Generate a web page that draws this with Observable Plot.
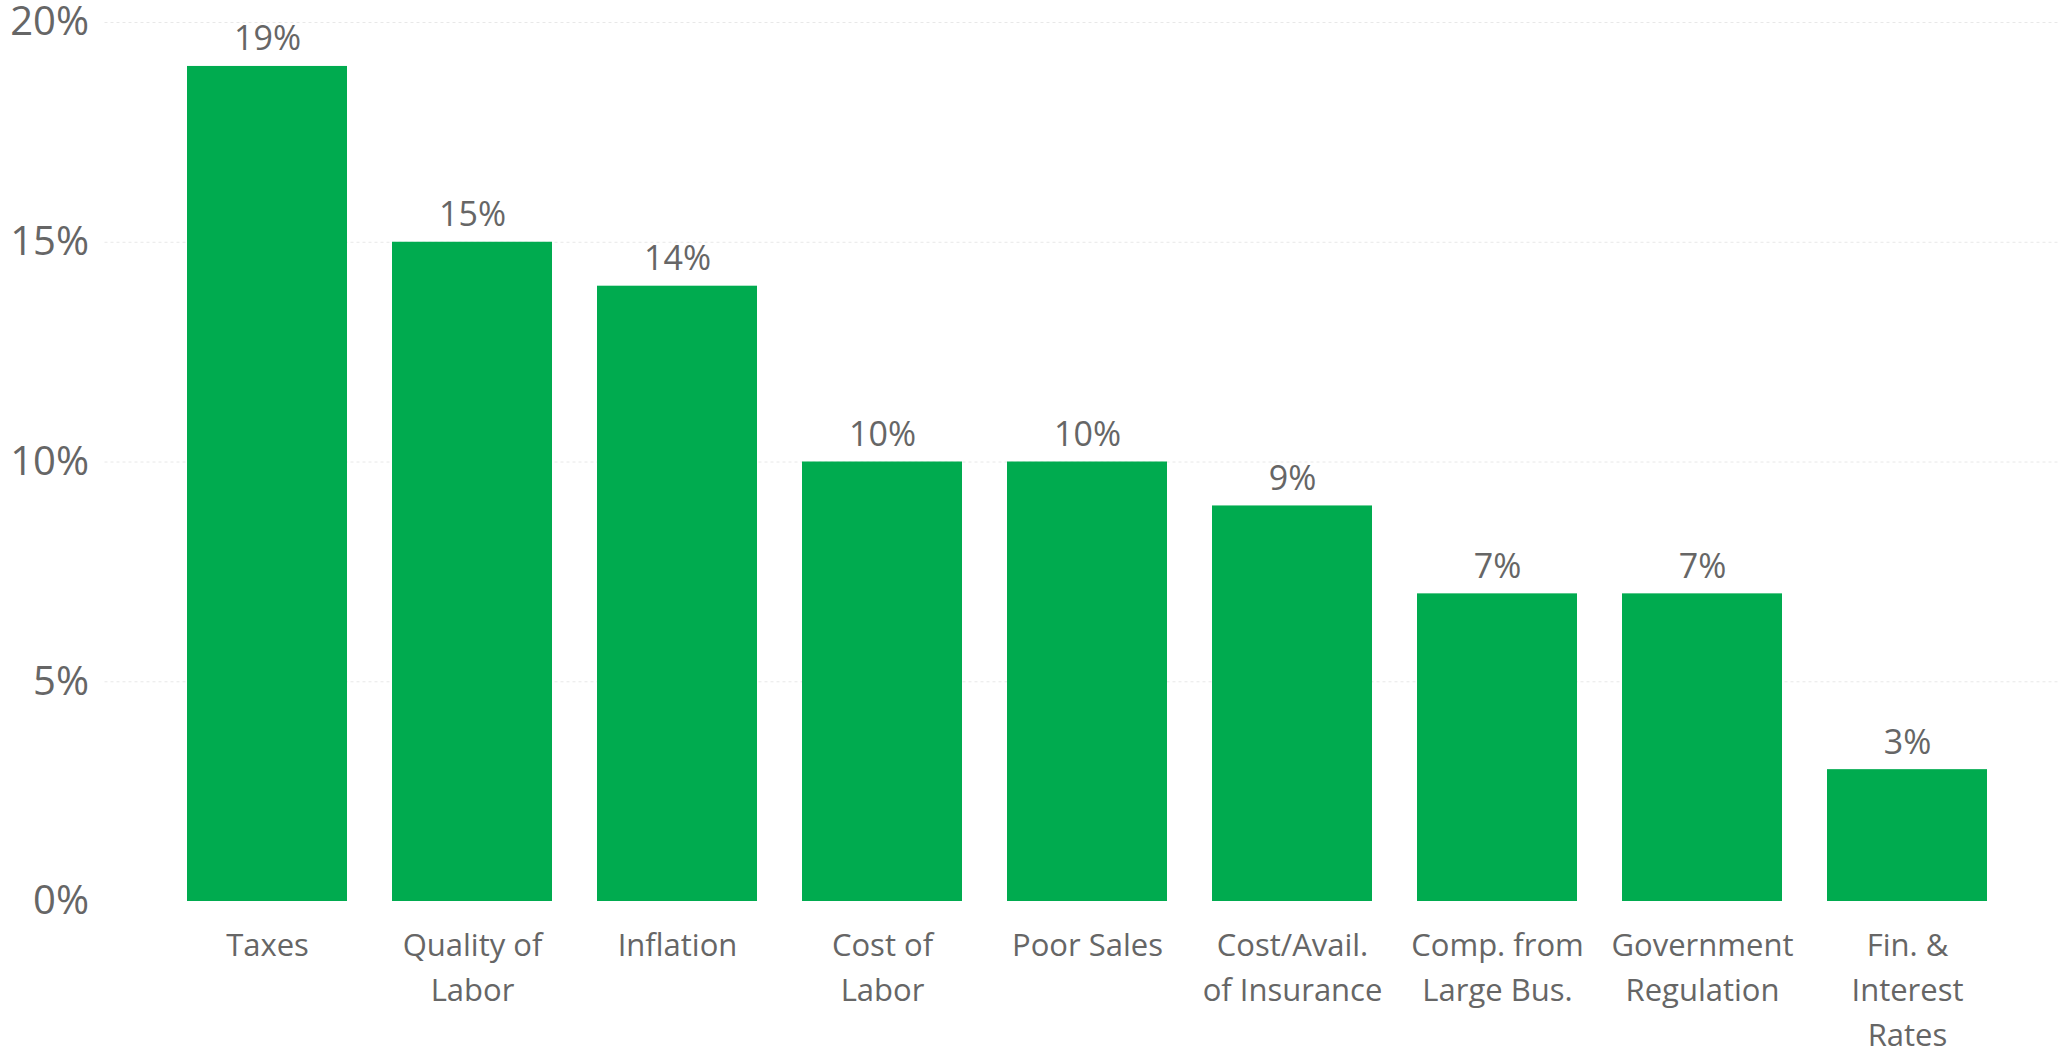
<!DOCTYPE html>
<html>
<head>
<meta charset="utf-8">
<script src="https://cdn.jsdelivr.net/npm/d3@7"></script>
<script src="https://cdn.jsdelivr.net/npm/@observablehq/plot@0.6"></script>
<style>
  html, body { margin: 0; padding: 0; background: #ffffff; }
  #chart svg { display: block; overflow: visible; }
</style>
</head>
<body>
<div id="chart"></div>
<script>
const categories = ["Taxes", "Quality of Labor", "Inflation", "Cost of Labor", "Poor Sales",
  "Cost/Avail. of Insurance", "Comp. from Large Bus.", "Government Regulation", "Fin. & Interest Rates"];
const tickLabels = ["Taxes", "Quality of\nLabor", "Inflation", "Cost of\nLabor", "Poor Sales",
  "Cost/Avail.\nof Insurance", "Comp. from\nLarge Bus.", "Government\nRegulation", "Fin. &\nInterest\nRates"];
const values = [19, 15, 14, 10, 10, 9, 7, 7, 3];
const yTicks = [0, 5, 10, 15, 20];

const data = categories.map((c, i) => ({category: c, value: values[i]}));
const labelOf = new Map(categories.map((c, i) => [c, tickLabels[i]]));

const chart = Plot.plot({
  width: 2065,
  height: 1049,
  marginTop: 22,
  marginBottom: 148,
  marginLeft: 164.5,
  marginRight: 55.5,
  style: {fontFamily: "'Open Sans', sans-serif", color: "#666666", background: "#ffffff"},
  x: {domain: categories, paddingInner: 0.22, paddingOuter: 0.11, label: null},
  y: {domain: [0, 20], label: null},
  marks: [
    Plot.gridY(yTicks.filter(d => d > 0), {stroke: "#e8e8e8", strokeOpacity: 1, strokeDasharray: "3,3",
      insetLeft: -60, insetRight: -50}),
    Plot.barY(data, {x: "category", y: "value", fill: "#00ab4f"}),
    Plot.text(data, {x: "category", y: "value", text: d => d.value + "%", lineAnchor: "bottom", dy: -16,
      fontSize: 34, fill: "#666666"}),
    Plot.axisY({ticks: yTicks, tickFormat: d => d + "%", tickSize: 0, tickPadding: 76, fontSize: 40,
      label: null, fill: "#666666"}),
    Plot.axisX({tickSize: 0, tickPadding: 22, fontSize: 31, lineHeight: 1.46, tickFormat: d => labelOf.get(d),
      label: null, fill: "#666666", textOverflow: null})
  ]
});
document.getElementById("chart").appendChild(chart);
</script>
</body>
</html>
